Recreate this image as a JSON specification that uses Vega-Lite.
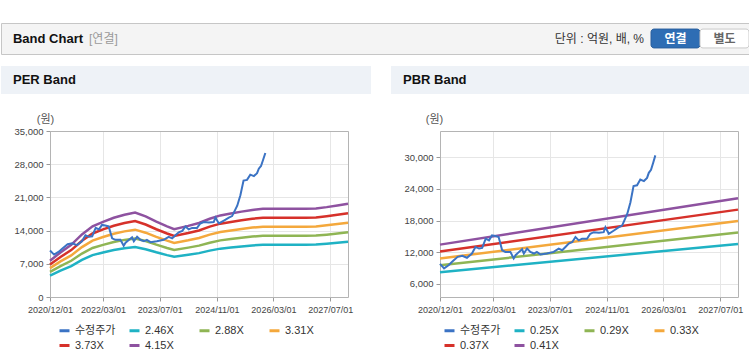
{
"$schema": "https://vega.github.io/schema/vega-lite/v6.json",
"background": "#ffffff",
"padding": {"top": 22, "left": 0, "right": 0, "bottom": 0},
"config": {
  "font": "Liberation Sans, Noto Sans CJK KR, sans-serif",
  "view": {"stroke": null},
  "axis": {"labelFont": "Liberation Sans, Noto Sans CJK KR", "labelFontSize": 9.5, "labelColor": "#444444", "gridColor": "#e6e6e6", "tickColor": "#9a9a9a", "tickSize": 4, "domainColor": "#b4b4b4", "titleFont": "Liberation Sans, Noto Sans CJK KR", "titleFontWeight": "normal", "titleFontSize": 11, "titleColor": "#555555", "labelPadding": 3, "labelOverlap": false, "labelFlush": false},
  "legend": {"labelFont": "Liberation Sans, Noto Sans CJK KR", "labelFontSize": 11, "labelColor": "#333333", "layout": {"bottom": {"anchor": "middle"}}},
  "text": {"font": "Liberation Sans, Noto Sans CJK KR"}
},
"datasets": {
  "price": [
    {"d":"2020-12-01","v":9800},{"d":"2021-01-05","v":8940},{"d":"2021-02-15","v":9560},{"d":"2021-03-15","v":10190},
    {"d":"2021-05-01","v":11125},{"d":"2021-06-10","v":11310},{"d":"2021-07-20","v":10940},{"d":"2021-09-01","v":11750},
    {"d":"2021-10-01","v":13000},{"d":"2021-11-01","v":12690},{"d":"2021-11-28","v":12810},{"d":"2021-12-28","v":14560},
    {"d":"2022-01-25","v":14250},{"d":"2022-02-20","v":15190},{"d":"2022-03-20","v":15060},{"d":"2022-04-18","v":14875},
    {"d":"2022-05-18","v":12375},{"d":"2022-06-15","v":12060},{"d":"2022-07-28","v":12060},{"d":"2022-08-25","v":10810},
    {"d":"2022-09-10","v":11440},{"d":"2022-10-10","v":12060},{"d":"2022-11-05","v":12560},{"d":"2022-11-20","v":11750},
    {"d":"2022-12-18","v":12690},{"d":"2023-01-15","v":12060},{"d":"2023-02-15","v":11750},{"d":"2023-03-12","v":12060},
    {"d":"2023-04-12","v":11560},{"d":"2023-06-05","v":11750},{"d":"2023-08-03","v":12060},{"d":"2023-09-15","v":12690},
    {"d":"2023-10-15","v":12375},{"d":"2023-11-12","v":13000},{"d":"2023-12-10","v":13625},{"d":"2024-01-10","v":13940},
    {"d":"2024-02-06","v":14875},{"d":"2024-03-05","v":14250},{"d":"2024-04-03","v":14560},{"d":"2024-05-15","v":14560},
    {"d":"2024-06-12","v":15500},{"d":"2024-07-12","v":15800},{"d":"2024-08-25","v":15690},{"d":"2024-10-05","v":15800},
    {"d":"2024-10-20","v":16750},{"d":"2024-11-18","v":15500},{"d":"2025-01-01","v":16125},{"d":"2025-02-12","v":16750},
    {"d":"2025-03-12","v":17060},{"d":"2025-04-25","v":19250},{"d":"2025-05-22","v":21440},{"d":"2025-06-18","v":24560},
    {"d":"2025-07-18","v":24690},{"d":"2025-08-15","v":25800},{"d":"2025-09-15","v":25500},{"d":"2025-10-12","v":26100},
    {"d":"2025-10-27","v":27060},{"d":"2025-11-15","v":27625},{"d":"2025-12-03","v":28940},{"d":"2025-12-22","v":30375}
  ],
  "perBand": [
    {"d":"2020-12-01","s":"2.46X","v":4529},{"d":"2020-12-01","s":"2.88X","v":5302},{"d":"2020-12-01","s":"3.31X","v":6094},{"d":"2020-12-01","s":"3.73X","v":6867},{"d":"2020-12-01","s":"4.15X","v":7640},
    {"d":"2021-03-01","s":"2.46X","v":5572},{"d":"2021-03-01","s":"2.88X","v":6523},{"d":"2021-03-01","s":"3.31X","v":7497},{"d":"2021-03-01","s":"3.73X","v":8448},{"d":"2021-03-01","s":"4.15X","v":9400},
    {"d":"2021-06-01","s":"2.46X","v":6521},{"d":"2021-06-01","s":"2.88X","v":7635},{"d":"2021-06-01","s":"3.31X","v":8775},{"d":"2021-06-01","s":"3.73X","v":9888},{"d":"2021-06-01","s":"4.15X","v":11002},
    {"d":"2021-09-01","s":"2.46X","v":7825},{"d":"2021-09-01","s":"2.88X","v":9161},{"d":"2021-09-01","s":"3.31X","v":10529},{"d":"2021-09-01","s":"3.73X","v":11865},{"d":"2021-09-01","s":"4.15X","v":13201},
    {"d":"2021-12-01","s":"2.46X","v":8831},{"d":"2021-12-01","s":"2.88X","v":10339},{"d":"2021-12-01","s":"3.31X","v":11883},{"d":"2021-12-01","s":"3.73X","v":13391},{"d":"2021-12-01","s":"4.15X","v":14899},
    {"d":"2022-03-01","s":"2.46X","v":9395},{"d":"2022-03-01","s":"2.88X","v":10999},{"d":"2022-03-01","s":"3.31X","v":12641},{"d":"2022-03-01","s":"3.73X","v":14245},{"d":"2022-03-01","s":"4.15X","v":15849},
    {"d":"2022-06-01","s":"2.46X","v":9899},{"d":"2022-06-01","s":"2.88X","v":11589},{"d":"2022-06-01","s":"3.31X","v":13319},{"d":"2022-06-01","s":"3.73X","v":15010},{"d":"2022-06-01","s":"4.15X","v":16700},
    {"d":"2022-09-01","s":"2.46X","v":10285},{"d":"2022-09-01","s":"2.88X","v":12041},{"d":"2022-09-01","s":"3.31X","v":13839},{"d":"2022-09-01","s":"3.73X","v":15595},{"d":"2022-09-01","s":"4.15X","v":17351},
    {"d":"2022-12-01","s":"2.46X","v":10551},{"d":"2022-12-01","s":"2.88X","v":12352},{"d":"2022-12-01","s":"3.31X","v":14197},{"d":"2022-12-01","s":"3.73X","v":15998},{"d":"2022-12-01","s":"4.15X","v":17799},
    {"d":"2023-03-01","s":"2.46X","v":10076},{"d":"2023-03-01","s":"2.88X","v":11796},{"d":"2023-03-01","s":"3.31X","v":13558},{"d":"2023-03-01","s":"3.73X","v":15278},{"d":"2023-03-01","s":"4.15X","v":16998},
    {"d":"2023-06-01","s":"2.46X","v":9424},{"d":"2023-06-01","s":"2.88X","v":11033},{"d":"2023-06-01","s":"3.31X","v":12681},{"d":"2023-06-01","s":"3.73X","v":14290},{"d":"2023-06-01","s":"4.15X","v":15899},
    {"d":"2023-09-01","s":"2.46X","v":8831},{"d":"2023-09-01","s":"2.88X","v":10339},{"d":"2023-09-01","s":"3.31X","v":11883},{"d":"2023-09-01","s":"3.73X","v":13391},{"d":"2023-09-01","s":"4.15X","v":14899},
    {"d":"2023-11-01","s":"2.46X","v":8477},{"d":"2023-11-01","s":"2.88X","v":9924},{"d":"2023-11-01","s":"3.31X","v":11406},{"d":"2023-11-01","s":"3.73X","v":12854},{"d":"2023-11-01","s":"4.15X","v":14301},
    {"d":"2024-03-01","s":"2.46X","v":8890},{"d":"2024-03-01","s":"2.88X","v":10408},{"d":"2024-03-01","s":"3.31X","v":11962},{"d":"2024-03-01","s":"3.73X","v":13480},{"d":"2024-03-01","s":"4.15X","v":14998},
    {"d":"2024-06-01","s":"2.46X","v":9247},{"d":"2024-06-01","s":"2.88X","v":10826},{"d":"2024-06-01","s":"3.31X","v":12442},{"d":"2024-06-01","s":"3.73X","v":14021},{"d":"2024-06-01","s":"4.15X","v":15600},
    {"d":"2024-09-01","s":"2.46X","v":9781},{"d":"2024-09-01","s":"2.88X","v":11451},{"d":"2024-09-01","s":"3.31X","v":13161},{"d":"2024-09-01","s":"3.73X","v":14830},{"d":"2024-09-01","s":"4.15X","v":16500},
    {"d":"2024-12-01","s":"2.46X","v":10197},{"d":"2024-12-01","s":"2.88X","v":11938},{"d":"2024-12-01","s":"3.31X","v":13720},{"d":"2024-12-01","s":"3.73X","v":15461},{"d":"2024-12-01","s":"4.15X","v":17202},
    {"d":"2025-03-01","s":"2.46X","v":10433},{"d":"2025-03-01","s":"2.88X","v":12214},{"d":"2025-03-01","s":"3.31X","v":14038},{"d":"2025-03-01","s":"3.73X","v":15819},{"d":"2025-03-01","s":"4.15X","v":17600},
    {"d":"2025-06-01","s":"2.46X","v":10669},{"d":"2025-06-01","s":"2.88X","v":12491},{"d":"2025-06-01","s":"3.31X","v":14355},{"d":"2025-06-01","s":"3.73X","v":16177},{"d":"2025-06-01","s":"4.15X","v":17999},
    {"d":"2025-09-01","s":"2.46X","v":10878},{"d":"2025-09-01","s":"2.88X","v":12735},{"d":"2025-09-01","s":"3.31X","v":14637},{"d":"2025-09-01","s":"3.73X","v":16494},{"d":"2025-09-01","s":"4.15X","v":18351},
    {"d":"2025-12-01","s":"2.46X","v":11026},{"d":"2025-12-01","s":"2.88X","v":12908},{"d":"2025-12-01","s":"3.31X","v":14835},{"d":"2025-12-01","s":"3.73X","v":16718},{"d":"2025-12-01","s":"4.15X","v":18600},
    {"d":"2026-12-01","s":"2.46X","v":11026},{"d":"2026-12-01","s":"2.88X","v":12908},{"d":"2026-12-01","s":"3.31X","v":14835},{"d":"2026-12-01","s":"3.73X","v":16718},{"d":"2026-12-01","s":"4.15X","v":18600},
    {"d":"2027-03-01","s":"2.46X","v":11055},{"d":"2027-03-01","s":"2.88X","v":12943},{"d":"2027-03-01","s":"3.31X","v":14875},{"d":"2027-03-01","s":"3.73X","v":16763},{"d":"2027-03-01","s":"4.15X","v":18650},
    {"d":"2027-06-01","s":"2.46X","v":11232},{"d":"2027-06-01","s":"2.88X","v":13150},{"d":"2027-06-01","s":"3.31X","v":15113},{"d":"2027-06-01","s":"3.73X","v":17031},{"d":"2027-06-01","s":"4.15X","v":18949},
    {"d":"2027-09-01","s":"2.46X","v":11441},{"d":"2027-09-01","s":"2.88X","v":13395},{"d":"2027-09-01","s":"3.31X","v":15395},{"d":"2027-09-01","s":"3.73X","v":17348},{"d":"2027-09-01","s":"4.15X","v":19302},
    {"d":"2027-12-01","s":"2.46X","v":11648},{"d":"2027-12-01","s":"2.88X","v":13637},{"d":"2027-12-01","s":"3.31X","v":15673},{"d":"2027-12-01","s":"3.73X","v":17662},{"d":"2027-12-01","s":"4.15X","v":19650}
  ],
  "pbrBand": [
    {"d":"2020-12-01","s":"0.25X","v":8195},{"d":"2020-12-01","s":"0.29X","v":9506},{"d":"2020-12-01","s":"0.33X","v":10817},{"d":"2020-12-01","s":"0.37X","v":12129},{"d":"2020-12-01","s":"0.41X","v":13440},
    {"d":"2027-12-01","s":"0.25X","v":13568},{"d":"2027-12-01","s":"0.29X","v":15738},{"d":"2027-12-01","s":"0.33X","v":17909},{"d":"2027-12-01","s":"0.37X","v":20080},{"d":"2027-12-01","s":"0.41X","v":22251}
  ]
},
"spacing": 11,
"resolve": {"scale": {"x": "independent", "y": "independent", "color": "independent", "stroke": "independent"}, "legend": {"color": "independent"}},
"vconcat": [
  {
    "width": 749, "height": 31,
    "view": {"fill": "#f4f4f4", "stroke": "#c6c6c6"},
    "layer": [
      {"data": {"values": [{"k": "Band Chart"}]}, "mark": {"type": "text", "align": "left", "fontWeight": "bold", "fontSize": 13, "color": "#111111"},
       "encoding": {"x": {"field": "k", "type": "nominal", "scale": {"type": "point", "align": 0.016}, "axis": null}, "text": {"field": "k"}}},
      {"data": {"values": [{"k": "[연결]"}]}, "mark": {"type": "text", "align": "left", "fontSize": 12, "color": "#9a9a9a"},
       "encoding": {"x": {"field": "k", "type": "nominal", "scale": {"type": "point", "align": 0.1175}, "axis": null}, "text": {"field": "k"}}},
      {"data": {"values": [{"k": "단위 : 억원, 배, %"}]}, "mark": {"type": "text", "align": "right", "fontSize": 12, "color": "#333333"},
       "encoding": {"x": {"field": "k", "type": "nominal", "scale": {"type": "point", "align": 0.8585}, "axis": null}, "text": {"field": "k"}}},
      {"data": {"values": [{"k": "연결"}, {"k": "별도"}]}, "mark": {"type": "rect", "cornerRadius": 3, "strokeWidth": 1},
       "encoding": {
         "x": {"field": "k", "type": "nominal", "sort": null, "scale": {"type": "band", "domain": ["연결", "별도"], "paddingInner": 0, "paddingOuter": 0, "range": [650, 748]}, "axis": null},
         "y": {"datum": "b", "type": "nominal", "scale": {"type": "band", "paddingInner": 0, "paddingOuter": 0.32}, "axis": null},
         "color": {"field": "k", "type": "nominal", "scale": {"domain": ["연결", "별도"], "range": ["#2e6db4", "#ffffff"]}, "legend": null},
         "stroke": {"field": "k", "type": "nominal", "scale": {"domain": ["연결", "별도"], "range": ["#2a5f9e", "#c9c9c9"]}, "legend": null}}},
      {"data": {"values": [{"k": "연결"}, {"k": "별도"}]}, "mark": {"type": "text", "fontWeight": "bold", "fontSize": 12},
       "encoding": {
         "x": {"field": "k", "type": "nominal", "sort": null, "scale": {"type": "band", "domain": ["연결", "별도"], "paddingInner": 0, "paddingOuter": 0, "range": [650, 748]}, "axis": null},
         "text": {"field": "k"},
         "color": {"field": "k", "type": "nominal", "scale": {"domain": ["연결", "별도"], "range": ["#ffffff", "#666666"]}, "legend": null}}}
    ],
    "resolve": {"scale": {"x": "independent", "y": "independent", "color": "independent", "stroke": "independent"}}
  },
  {
    "spacing": 20,
    "resolve": {"scale": {"x": "independent", "y": "independent", "color": "independent"}, "legend": {"color": "independent"}},
    "hconcat": [
      {
        "spacing": 19,
        "vconcat": [
          {"width": 370, "height": 28, "view": {"fill": "#eef2f7", "stroke": null},
           "data": {"values": [{"t": "PER Band"}]},
           "mark": {"type": "text", "align": "left", "fontWeight": "bold", "fontSize": 13, "color": "#111111"},
           "encoding": {"x": {"field": "t", "type": "nominal", "scale": {"type": "point", "align": 0.0324}, "axis": null}, "text": {"field": "t"}}},
          {"width": 370, "height": 166,
           "layer": [
             {"data": {"name": "perBand"}, "mark": {"type": "line", "strokeWidth": 2.5},
              "encoding": {
                "x": {"field": "d", "type": "temporal", "scale": {"type": "utc", "range": [49, 347], "domain": [{"year": 2020, "month": 12, "date": 1, "utc": true}, {"year": 2027, "month": 12, "date": 1, "utc": true}]},
                      "axis": {"orient": "bottom", "title": null, "format": "%Y/%m/%d", "grid": true, "labelPadding": 4, "labelFontSize": 9, "labelOverlap": false, "labelFlush": false,
                               "values": [{"year": 2020, "month": 12, "date": 1, "utc": true}, {"year": 2022, "month": 3, "date": 1, "utc": true}, {"year": 2023, "month": 7, "date": 1, "utc": true}, {"year": 2024, "month": 11, "date": 1, "utc": true}, {"year": 2026, "month": 3, "date": 1, "utc": true}, {"year": 2027, "month": 7, "date": 1, "utc": true}]}},
                "y": {"field": "v", "type": "quantitative", "scale": {"domain": [0, 35000]},
                      "axis": {"orient": "left", "offset": -49, "values": [0, 7000, 14000, 21000, 28000, 35000], "format": ",.0f", "grid": true, "labelOverlap": false, "labelFlush": false, "title": "(원)", "titleAngle": 0, "titleAlign": "center", "titleBaseline": "bottom", "titleX": -5, "titleY": -7}},
                "color": {"field": "s", "type": "nominal",
                          "scale": {"domain": ["수정주가", "2.46X", "2.88X", "3.31X", "3.73X", "4.15X"], "range": ["#3b73c4", "#1fb2c4", "#8fb554", "#f4a83c", "#d6312a", "#8e52a0"]},
                          "legend": {"title": null, "orient": "bottom", "columns": 4, "symbolType": "stroke", "symbolStrokeWidth": 3, "symbolSize": 100, "gridAlign": "all", "columnPadding": 7, "rowPadding": 2, "offset": 10}}}},
             {"data": {"name": "price"}, "mark": {"type": "line", "strokeWidth": 2},
              "encoding": {
                "x": {"field": "d", "type": "temporal", "scale": {"type": "utc", "range": [49, 347], "domain": [{"year": 2020, "month": 12, "date": 1, "utc": true}, {"year": 2027, "month": 12, "date": 1, "utc": true}]},
                      "axis": {"orient": "top", "labels": false, "ticks": false, "grid": false, "domain": true, "title": null}},
                "y": {"field": "v", "type": "quantitative", "scale": {"domain": [0, 35000]},
                      "axis": {"orient": "right", "offset": -23, "labels": false, "ticks": false, "grid": false, "domain": true, "title": null}},
                "color": {"datum": "수정주가", "type": "nominal"}}}
           ],
           "resolve": {"scale": {"x": "independent", "y": "independent"}}}
        ]
      },
      {
        "spacing": 19,
        "vconcat": [
          {"width": 359, "height": 28, "view": {"fill": "#eef2f7", "stroke": null},
           "data": {"values": [{"t": "PBR Band"}]},
           "mark": {"type": "text", "align": "left", "fontWeight": "bold", "fontSize": 13, "color": "#111111"},
           "encoding": {"x": {"field": "t", "type": "nominal", "scale": {"type": "point", "align": 0.0334}, "axis": null}, "text": {"field": "t"}}},
          {"width": 359, "height": 166,
           "layer": [
             {"data": {"name": "pbrBand"}, "mark": {"type": "line", "strokeWidth": 2.5},
              "encoding": {
                "x": {"field": "d", "type": "temporal", "scale": {"type": "utc", "range": [49, 347], "domain": [{"year": 2020, "month": 12, "date": 1, "utc": true}, {"year": 2027, "month": 12, "date": 1, "utc": true}]},
                      "axis": {"orient": "bottom", "title": null, "format": "%Y/%m/%d", "grid": true, "labelPadding": 4, "labelFontSize": 9, "labelOverlap": false, "labelFlush": false,
                               "values": [{"year": 2020, "month": 12, "date": 1, "utc": true}, {"year": 2022, "month": 3, "date": 1, "utc": true}, {"year": 2023, "month": 7, "date": 1, "utc": true}, {"year": 2024, "month": 11, "date": 1, "utc": true}, {"year": 2026, "month": 3, "date": 1, "utc": true}, {"year": 2027, "month": 7, "date": 1, "utc": true}]}},
                "y": {"field": "v", "type": "quantitative", "scale": {"domain": [3500, 35000]},
                      "axis": {"orient": "left", "offset": -49, "values": [6000, 12000, 18000, 24000, 30000], "format": ",.0f", "grid": true, "labelOverlap": false, "labelFlush": false, "title": "(원)", "titleAngle": 0, "titleAlign": "center", "titleBaseline": "bottom", "titleX": -6, "titleY": -7}},
                "color": {"field": "s", "type": "nominal",
                          "scale": {"domain": ["수정주가", "0.25X", "0.29X", "0.33X", "0.37X", "0.41X"], "range": ["#3b73c4", "#1fb2c4", "#8fb554", "#f4a83c", "#d6312a", "#8e52a0"]},
                          "legend": {"title": null, "orient": "bottom", "columns": 4, "symbolType": "stroke", "symbolStrokeWidth": 3, "symbolSize": 100, "gridAlign": "all", "columnPadding": 7, "rowPadding": 2, "offset": 10}}}},
             {"data": {"name": "price"}, "mark": {"type": "line", "strokeWidth": 2},
              "encoding": {
                "x": {"field": "d", "type": "temporal", "scale": {"type": "utc", "range": [49, 347], "domain": [{"year": 2020, "month": 12, "date": 1, "utc": true}, {"year": 2027, "month": 12, "date": 1, "utc": true}]},
                      "axis": {"orient": "top", "labels": false, "ticks": false, "grid": false, "domain": true, "title": null}},
                "y": {"field": "v", "type": "quantitative", "scale": {"domain": [3500, 35000]},
                      "axis": {"orient": "right", "offset": -12, "labels": false, "ticks": false, "grid": false, "domain": true, "title": null}},
                "color": {"datum": "수정주가", "type": "nominal"}}}
           ],
           "resolve": {"scale": {"x": "independent", "y": "independent"}}}
        ]
      }
    ]
  }
]
}
